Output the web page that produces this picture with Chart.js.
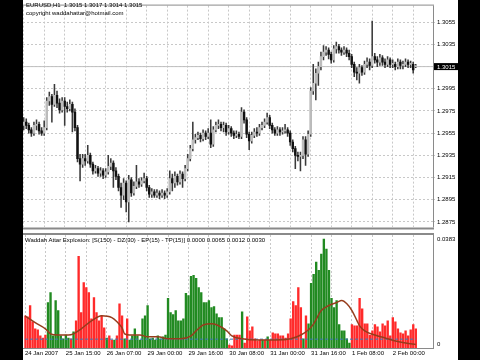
<!DOCTYPE html>
<html>
<head>
<meta charset="utf-8">
<script src="https://cdn.jsdelivr.net/npm/chart.js@4.4.0/dist/chart.umd.min.js"></script>
<style>
  body { margin: 0; background: #000; width: 480px; height: 360px; overflow: hidden; font-family: "Liberation Sans", Arial, sans-serif; }
  #sheet { position: absolute; left: 23px; top: 0; width: 435px; height: 360px; background: #fff; }
  #priceChart { position: absolute; left: 0; top: 0; }
  #waeChart { position: absolute; left: 0; top: 233px; }
  .txt { position: absolute; font-size: 6px; line-height: 7px; color: #000; white-space: nowrap; z-index: 2; }
</style>
</head>
<body>
<div id="sheet">
  <canvas id="priceChart" width="435" height="233"></canvas>
  <canvas id="waeChart" width="435" height="127"></canvas>
  <div class="txt" style="left:3px;top:2px">EURUSD,H1&nbsp; 1.3015 1.3017 1.3014 1.3015</div>
  <div class="txt" style="left:3px;top:10px">copyright waddahattar@hotmail.com</div>
  <div class="txt" style="left:2px;top:237px">Waddah Attar Explosion: [S(150) - DZ(30) - EP(15) - TP(15)] 0.0000 0.0065 0.0012 0.0030</div>
</div>
<script>
// EURUSD H1, one entry per bar, bar 0 = 24 Jan 2007 23:00
var opens = [
  1.2962,1.2965,1.2962,1.2958,1.2955,1.2962,1.2963,1.2957,1.2955,1.2960,
  1.2984,1.2988,1.2981,1.2989,1.2982,1.2976,1.2984,1.2979,1.2977,1.2981,
  1.2974,1.2960,1.2932,1.2927,1.2932,1.2930,1.2935,1.2927,1.2921,1.2923,
  1.2919,1.2921,1.2917,1.2920,1.2925,1.2928,1.2921,1.2916,1.2906,1.2899,
  1.2910,1.2893,1.2913,1.2901,1.2907,1.2911,1.2909,1.2912,1.2914,1.2906,
  1.2900,1.2902,1.2899,1.2901,1.2899,1.2901,1.2899,1.2902,1.2914,1.2910,
  1.2916,1.2911,1.2918,1.2914,1.2923,1.2932,1.2941,1.2949,1.2951,1.2953,
  1.2950,1.2955,1.2952,1.2955,1.2945,1.2958,1.2962,1.2963,1.2960,1.2962,
  1.2956,1.2959,1.2955,1.2953,1.2954,1.2952,1.2974,1.2967,1.2954,1.2948,
  1.2953,1.2956,1.2955,1.2960,1.2962,1.2965,1.2969,1.2962,1.2958,1.2955,
  1.2958,1.2956,1.2957,1.2958,1.2955,1.2947,1.2941,1.2935,1.2934,1.2935,
  1.2949,1.2936,1.2954,1.2993,1.3000,1.3009,1.3015,1.3024,1.3028,1.3030,
  1.3026,1.3021,1.3031,1.3033,1.3030,1.3028,1.3030,1.3027,1.3024,1.3017,
  1.3010,1.3009,1.3014,1.3010,1.3017,1.3019,1.3016,1.3024,1.3021,1.3019,
  1.3023,1.3019,1.3017,1.3021,1.3017,1.3017,1.3015,1.3019,1.3016,1.3017,
  1.3019,1.3017,1.3017,1.3015
];
var highs = [
  1.2969,1.2968,1.2964,1.2960,1.2965,1.2967,1.2965,1.2960,1.2966,1.2987,
  1.2992,1.2990,1.2999,1.2993,1.2986,1.2987,1.2987,1.2983,1.2985,1.2983,
  1.2977,1.2962,1.2936,1.2936,1.2936,1.2944,1.2937,1.2929,1.2926,1.2925,
  1.2924,1.2923,1.2923,1.2935,1.2932,1.2930,1.2924,1.2918,1.2910,1.2914,
  1.2912,1.2917,1.2915,1.2911,1.2926,1.2914,1.2915,1.2919,1.2916,1.2908,
  1.2905,1.2904,1.2904,1.2903,1.2904,1.2903,1.2905,1.2921,1.2918,1.2920,
  1.2918,1.2921,1.2920,1.2926,1.2936,1.2944,1.2965,1.2954,1.2956,1.2955,
  1.2958,1.2957,1.2959,1.2967,1.2961,1.2965,1.2967,1.2965,1.2965,1.2964,
  1.2962,1.2961,1.2957,1.2957,1.2956,1.2978,1.2976,1.2969,1.2956,1.2956,
  1.2959,1.2960,1.2963,1.2965,1.2968,1.2973,1.2971,1.2964,1.2960,1.2961,
  1.2960,1.2960,1.2963,1.2960,1.2957,1.2949,1.2943,1.2938,1.2938,1.2952,
  1.2952,1.2957,1.2996,1.3017,1.3013,1.3019,1.3028,1.3034,1.3033,1.3032,
  1.3028,1.3034,1.3037,1.3035,1.3032,1.3033,1.3032,1.3030,1.3026,1.3019,
  1.3014,1.3017,1.3016,1.3020,1.3023,1.3022,1.3056,1.3027,1.3024,1.3026,
  1.3025,1.3022,1.3024,1.3023,1.3021,1.3019,1.3022,1.3021,1.3020,1.3022,
  1.3021,1.3020,1.3019,1.3017
];
var lows = [
  1.2958,1.2959,1.2955,1.2952,1.2953,1.2958,1.2954,1.2953,1.2953,1.2958,
  1.2980,1.2965,1.2979,1.2978,1.2973,1.2974,1.2962,1.2974,1.2975,1.2956,
  1.2957,1.2929,1.2912,1.2924,1.2926,1.2928,1.2924,1.2918,1.2919,1.2916,
  1.2916,1.2914,1.2915,1.2918,1.2922,1.2906,1.2913,1.2903,1.2888,1.2895,
  1.2884,1.2875,1.2898,1.2899,1.2905,1.2906,1.2907,1.2910,1.2903,1.2897,
  1.2897,1.2897,1.2897,1.2896,1.2897,1.2896,1.2897,1.2900,1.2903,1.2906,
  1.2908,1.2909,1.2906,1.2912,1.2921,1.2930,1.2939,1.2946,1.2949,1.2947,
  1.2948,1.2949,1.2950,1.2942,1.2943,1.2956,1.2959,1.2957,1.2956,1.2953,
  1.2954,1.2952,1.2950,1.2951,1.2950,1.2950,1.2964,1.2951,1.2940,1.2946,
  1.2951,1.2952,1.2953,1.2958,1.2960,1.2963,1.2959,1.2955,1.2953,1.2953,
  1.2953,1.2954,1.2955,1.2952,1.2944,1.2938,1.2923,1.2930,1.2921,1.2932,
  1.2926,1.2934,1.2952,1.2990,1.2985,1.2998,1.3012,1.3021,1.3025,1.3022,
  1.3018,1.3019,1.3027,1.3027,1.3025,1.3026,1.3024,1.3021,1.3014,1.3006,
  1.3003,1.3000,1.3007,1.3008,1.3014,1.3012,1.3014,1.3018,1.3015,1.3016,
  1.3016,1.3014,1.3015,1.3014,1.3014,1.3012,1.3013,1.3013,1.3013,1.3015,
  1.3014,1.3014,1.3009,1.3014
];
var closes = [
  1.2965,1.2962,1.2958,1.2955,1.2962,1.2963,1.2957,1.2955,1.2960,1.2984,
  1.2988,1.2981,1.2989,1.2982,1.2976,1.2984,1.2979,1.2977,1.2981,1.2974,
  1.2960,1.2932,1.2927,1.2932,1.2930,1.2935,1.2927,1.2921,1.2923,1.2919,
  1.2921,1.2917,1.2920,1.2925,1.2928,1.2921,1.2916,1.2906,1.2899,1.2910,
  1.2893,1.2913,1.2901,1.2907,1.2911,1.2909,1.2912,1.2914,1.2906,1.2900,
  1.2902,1.2899,1.2901,1.2899,1.2901,1.2899,1.2902,1.2914,1.2910,1.2916,
  1.2911,1.2918,1.2914,1.2923,1.2932,1.2941,1.2949,1.2951,1.2953,1.2950,
  1.2955,1.2952,1.2955,1.2945,1.2958,1.2962,1.2963,1.2960,1.2962,1.2956,
  1.2959,1.2955,1.2953,1.2954,1.2952,1.2974,1.2967,1.2954,1.2948,1.2953,
  1.2956,1.2955,1.2960,1.2962,1.2965,1.2969,1.2962,1.2958,1.2955,1.2958,
  1.2956,1.2957,1.2958,1.2955,1.2947,1.2941,1.2935,1.2934,1.2935,1.2949,
  1.2936,1.2954,1.2993,1.3000,1.3009,1.3015,1.3024,1.3028,1.3030,1.3026,
  1.3021,1.3031,1.3033,1.3030,1.3028,1.3030,1.3027,1.3024,1.3017,1.3010,
  1.3009,1.3014,1.3010,1.3017,1.3019,1.3016,1.3024,1.3021,1.3019,1.3023,
  1.3019,1.3017,1.3021,1.3017,1.3017,1.3015,1.3019,1.3016,1.3017,1.3019,
  1.3017,1.3017,1.3012,1.3015
];
var lastPrice = 1.3015;
var priceTicks = [1.2875, 1.2895, 1.2915, 1.2935, 1.2955, 1.2975, 1.2995, 1.3015, 1.3035, 1.3055];

// time labels, one every 16 bars
var timeLabels = ['24 Jan 2007', '25 Jan 15:00', '26 Jan 07:00', '29 Jan 00:00', '29 Jan 16:00',
  '30 Jan 08:00', '31 Jan 00:00', '31 Jan 16:00', '1 Feb 08:00', '2 Feb 00:00'];

// Waddah Attar Explosion: trend histogram (U = green, D = red)
var trend = [
  0.0109,0.0106,0.0144,0.0089,0.0065,0.0062,0.0041,0.0034,0.0044,0.0154,
  0.0188,0.0041,0.0161,0.0127,0.0041,0.0031,0.0044,0.0034,0.0031,0.0055,
  0.0092,0.0311,0.0120,0.0222,0.0205,0.0188,0.0099,0.0171,0.0120,0.0092,
  0.0109,0.0068,0.0034,0.0041,0.0027,0.0027,0.0041,0.0150,0.0109,0.0031,
  0.0099,0.0027,0.0041,0.0065,0.0041,0.0027,0.0099,0.0109,0.0144,0.0031,
  0.0034,0.0027,0.0041,0.0031,0.0038,0.0044,0.0168,0.0120,0.0113,0.0127,
  0.0092,0.0092,0.0099,0.0185,0.0178,0.0243,0.0246,0.0236,0.0205,0.0188,
  0.0154,0.0154,0.0161,0.0137,0.0140,0.0116,0.0103,0.0103,0.0065,0.0031,
  0.0010,0.0007,0.0044,0.0044,0.0044,0.0123,0.0017,0.0106,0.0058,0.0072,
  0.0031,0.0024,0.0027,0.0027,0.0027,0.0038,0.0027,0.0051,0.0048,0.0048,
  0.0041,0.0041,0.0034,0.0048,0.0099,0.0157,0.0144,0.0205,0.0137,0.0031,
  0.0109,0.0082,0.0219,0.0250,0.0291,0.0263,0.0318,0.0369,0.0335,0.0263,
  0.0168,0.0137,0.0161,0.0079,0.0058,0.0058,0.0031,0.0017,0.0079,0.0075,
  0.0075,0.0168,0.0133,0.0082,0.0082,0.0044,0.0058,0.0079,0.0072,0.0055,
  0.0082,0.0075,0.0092,0.0041,0.0103,0.0089,0.0065,0.0051,0.0048,0.0058,
  0.0041,0.0062,0.0079,0.0065
];
var trendDir = ('DDDDDDDDDU' + 'UUUUUUUUDU' + 'DDDDDDDDDD' + 'DDUDDUDDDU' + 'DUUUUUUUUU' +
  'UUUUUUUUUU' + 'UUUUUUUUUU' + 'UUUUUUUUUU' + 'DDDDDUDDDD' + 'DDDUDUDDDD' +
  'DDDDDDDDDU' + 'DUUUUUUUUU' + 'UUUUUUUUDD' + 'DDDDDDDDDD' + 'DDDDDDDDDD' + 'DDDD').split('');

// explosion line, read at these bars
var explosionBars = [0, 4, 8, 10, 13, 17, 19, 22, 26, 30, 34, 36, 38, 39, 41, 45, 48, 52, 56, 61,
  65, 67, 70, 73, 75, 79, 81, 85, 92, 98, 104, 108, 111, 113, 116, 119, 122, 124, 126, 128,
  130, 131, 133, 137, 141, 145, 149, 153];
var explosion = [0.0109, 0.0086, 0.0065, 0.0048, 0.0044, 0.0044, 0.0048, 0.0065, 0.0092, 0.0109,
  0.0103, 0.0089, 0.0068, 0.0048, 0.0044, 0.0044, 0.0038, 0.0038, 0.0031, 0.0031,
  0.0041, 0.0058, 0.0079, 0.0082, 0.0079, 0.0058, 0.0041, 0.0031, 0.0027, 0.0027,
  0.0031, 0.0044, 0.0062, 0.0082, 0.0127, 0.0144, 0.0154, 0.0161, 0.0150, 0.0127,
  0.0092, 0.0075, 0.0058, 0.0044, 0.0034, 0.0024, 0.0017, 0.0012];
var deadZone = 0.0030;
var waeMax = 0.0383;

var family = '"Liberation Sans", Arial, sans-serif';
var gridColor = '#c8c8c8';
var frameColor = '#8a8a8a';
var xMin = -0.27, xMax = 159.73;

var gridPos = [];
for (var g = 0; g <= 160; g += 8) gridPos.push(g);

// candles as floating bars
var wicks = [], bull = [], bear = [];
for (var i = 0; i < closes.length; i++) {
  wicks.push({ x: i, y: [lows[i], highs[i]] });
  var body = { x: i, y: [Math.min(opens[i], closes[i]), Math.max(opens[i], closes[i])] };
  if (closes[i] >= opens[i]) bull.push(body); else bear.push(body);
}

var upBars = [], downBars = [];
trend.forEach(function(v, i) {
  if (trendDir[i] === 'U') upBars.push({ x: i, y: v }); else downBars.push({ x: i, y: v });
});
var explosionPts = explosionBars.map(function(b, k) { return { x: b, y: explosion[k] }; });

function frame(bottomWidth, topWidth) {
  return {
    id: 'frame',
    afterDatasetsDraw: function(chart) {
      var ctx = chart.ctx, a = chart.chartArea;
      ctx.save();
      ctx.strokeStyle = frameColor;
      ctx.lineWidth = 1;
      ctx.beginPath();
      ctx.moveTo(a.right + 0.5, a.top);
      ctx.lineTo(a.right + 0.5, a.bottom);
      ctx.stroke();
      ctx.lineWidth = topWidth;
      ctx.beginPath();
      ctx.moveTo(0, a.top - topWidth / 2);
      ctx.lineTo(a.right + 1, a.top - topWidth / 2);
      ctx.stroke();
      ctx.lineWidth = bottomWidth;
      ctx.beginPath();
      ctx.moveTo(0, a.bottom + bottomWidth / 2);
      ctx.lineTo(a.right + 1, a.bottom + bottomWidth / 2);
      ctx.stroke();
      ctx.restore();
    }
  };
}

var priceTag = {
  id: 'priceTag',
  afterDraw: function(chart) {
    var ctx = chart.ctx, a = chart.chartArea;
    var y = chart.scales.y.getPixelForValue(lastPrice);
    ctx.save();
    ctx.fillStyle = '#000';
    ctx.fillRect(a.right + 1, y - 3.5, 24, 7);
    ctx.fillStyle = '#fff';
    ctx.font = '6px ' + family;
    ctx.textBaseline = 'middle';
    ctx.fillText(lastPrice.toFixed(4), a.right + 4, y + 0.5);
    ctx.restore();
  }
};

new Chart(document.getElementById('priceChart'), {
  type: 'bar',
  data: {
    datasets: [
      { data: bull, backgroundColor: '#bcbcbc', barThickness: 1.8, minBarLength: 1, grouped: false, order: 0 },
      { data: bear, backgroundColor: '#111', barThickness: 1.8, minBarLength: 1, grouped: false, order: 0 },
      { data: wicks, backgroundColor: '#3a3a3a', barThickness: 0.9, grouped: false, order: 1 },
      { type: 'line', data: [{ x: xMin, y: lastPrice }, { x: xMax, y: lastPrice }],
        borderColor: '#c0c0c0', borderWidth: 1, pointRadius: 0, order: 2 }
    ]
  },
  options: {
    responsive: false,
    animation: false,
    layout: { padding: { top: 2, bottom: 1, left: 0, right: 0 } },
    plugins: { legend: { display: false }, tooltip: { enabled: false } },
    scales: {
      x: {
        type: 'linear', min: xMin, max: xMax, offset: false,
        grid: { offset: false, color: gridColor, drawTicks: false },
        border: { display: false, dash: [2, 2] },
        ticks: { display: false },
        afterBuildTicks: function(s) { s.ticks = gridPos.map(function(v) { return { value: v }; }); },
        afterFit: function(s) { s.height = 0; }
      },
      y: {
        position: 'right', min: 1.2870, max: 1.3070,
        grid: { color: gridColor, tickLength: 2 },
        border: { display: false, dash: [2, 2] },
        ticks: { color: '#000', font: { size: 6, family: family }, padding: 2,
          callback: function(v) { return v.toFixed(4); } },
        afterBuildTicks: function(s) { s.ticks = priceTicks.map(function(v) { return { value: v }; }); },
        afterFit: function(s) { s.width = 25; }
      }
    }
  },
  plugins: [frame(2, 1), priceTag]
});

var waeLabels = {
  id: 'waeLabels',
  afterDraw: function(chart) {
    var ctx = chart.ctx, a = chart.chartArea, ys = chart.scales.y;
    ctx.save();
    ctx.fillStyle = '#000';
    ctx.font = '6px ' + family;
    ctx.textBaseline = 'middle';
    ctx.fillText(waeMax.toFixed(4), a.right + 4, ys.getPixelForValue(waeMax) + 4);
    ctx.fillText('0', a.right + 4, ys.getPixelForValue(0) - 4);
    ctx.restore();
  }
};

new Chart(document.getElementById('waeChart'), {
  type: 'bar',
  data: {
    datasets: [
      { type: 'line', data: explosionPts, borderColor: '#963c1c', borderWidth: 1.5, pointRadius: 0,
        cubicInterpolationMode: 'monotone', order: 0 },
      { type: 'line', data: [{ x: 0, y: deadZone }, { x: closes.length - 1, y: deadZone }],
        borderColor: '#3c78b4', borderWidth: 1, borderDash: [3, 2], pointRadius: 0, order: 0 },
      { data: upBars, backgroundColor: '#218a21', barThickness: 1.7, grouped: false, order: 1 },
      { data: downBars, backgroundColor: '#ff2a2a', barThickness: 1.7, grouped: false, order: 1 }
    ]
  },
  options: {
    responsive: false,
    animation: false,
    layout: { padding: { top: 2, bottom: 0, left: 0, right: 0 } },
    plugins: { legend: { display: false }, tooltip: { enabled: false } },
    scales: {
      x: {
        type: 'linear', min: xMin, max: xMax, offset: false,
        grid: { offset: false, color: gridColor, drawTicks: false },
        border: { display: false, dash: [2, 2] },
        ticks: { color: '#000', font: { size: 6, family: family }, padding: 2, align: 'start',
          autoSkip: false, maxRotation: 0, minRotation: 0,
          callback: function(v) { return v % 16 === 0 && timeLabels[v / 16] ? timeLabels[v / 16] : ''; } },
        afterBuildTicks: function(s) { s.ticks = gridPos.map(function(v) { return { value: v }; }); },
        afterFit: function(s) { s.height = 12; }
      },
      y: {
        position: 'right', min: 0, max: waeMax,
        grid: { display: false },
        border: { display: false },
        ticks: { display: false },
        afterFit: function(s) { s.width = 25; }
      }
    }
  },
  plugins: [frame(1, 2), waeLabels]
});
</script>
</body>
</html>
